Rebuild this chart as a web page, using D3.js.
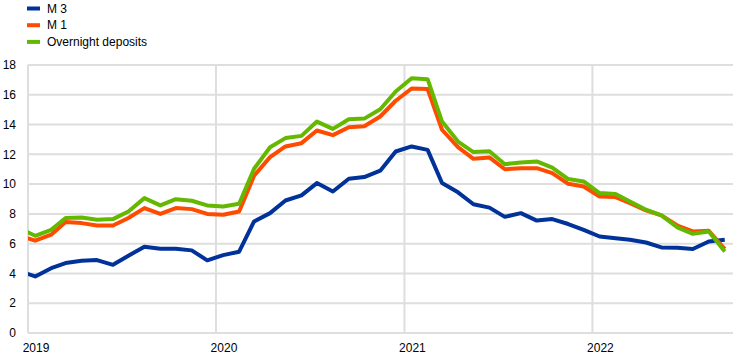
<!DOCTYPE html>
<html><head><meta charset="utf-8">
<script src="https://cdn.jsdelivr.net/npm/d3@7"></script>
<style>
body{margin:0;background:#fff;}
text{font-family:Arial,"Liberation Sans",sans-serif;font-size:12px;fill:#000;}
</style></head>
<body><svg id="c" width="742" height="359"></svg>
<script>
// Months: Dec 2018 ... Sep 2022 (first point is clipped at left edge)
const startMonth = "2018-12";
const seriesNames = ["M 3", "M 1", "Overnight deposits"];
const m3 = [4.16,3.8,4.35,4.7,4.85,4.9,4.58,5.19,5.8,5.66,5.66,5.55,4.88,5.23,5.46,7.49,8.05,8.9,9.24,10.07,9.5,10.36,10.47,10.9,12.19,12.53,12.3,10.07,9.45,8.65,8.42,7.8,8.05,7.55,7.65,7.32,6.93,6.48,6.37,6.26,6.08,5.75,5.72,5.64,6.15,6.26];
const m1 = [6.54,6.2,6.6,7.45,7.38,7.22,7.22,7.72,8.39,8.0,8.39,8.32,8.0,7.94,8.16,10.56,11.81,12.53,12.75,13.6,13.29,13.82,13.89,14.54,15.6,16.42,16.38,13.65,12.48,11.7,11.79,11.0,11.07,11.07,10.74,10.02,9.84,9.17,9.13,8.72,8.23,7.9,7.22,6.82,6.86,5.64];
const od = [7.03,6.53,6.93,7.72,7.76,7.6,7.65,8.16,9.06,8.57,8.99,8.88,8.57,8.5,8.68,11.03,12.48,13.09,13.24,14.2,13.71,14.36,14.4,15.03,16.22,17.11,17.05,14.2,12.86,12.15,12.21,11.34,11.45,11.52,11.11,10.34,10.18,9.4,9.33,8.83,8.28,7.9,7.09,6.66,6.82,5.48];
const colors = ["#003299","#ff4b00","#65b800"];
const yTicks = [0,2,4,6,8,10,12,14,16,18];
const yearTicks = ["2019","2020","2021","2022"];

const svg = d3.select("#c");
const parseM = d3.timeParse("%Y-%m");
const t0 = parseM(startMonth);
const dates = m3.map((_, i) => d3.timeDay.offset(d3.timeMonth.offset(t0, i), 14));

const x = d3.scaleTime().domain([new Date(2019,0,1), new Date(2022,9,1)]).range([28,733]);
const y = d3.scaleLinear().domain([0,18]).range([333,65]);

// horizontal grid
svg.append("g").selectAll("line").data(yTicks).join("line")
  .attr("x1",28).attr("x2",733).attr("y1",d=>y(d)).attr("y2",d=>y(d))
  .attr("stroke","#dedede").attr("stroke-width",2);
// vertical grid
const yearDates = yearTicks.map(s => new Date(+s,0,1));
svg.append("g").selectAll("line").data(yearDates).join("line")
  .attr("x1",d=>x(d)).attr("x2",d=>x(d)).attr("y1",y(18)).attr("y2",y(0))
  .attr("stroke","#dedede").attr("stroke-width",2);

// y labels
svg.append("g").selectAll("text").data(yTicks).join("text")
  .attr("x",16).attr("y",d=>y(d)).attr("dy","0.35em").attr("text-anchor","end").text(d=>d);
// x labels
svg.append("g").selectAll("text").data(yearTicks).join("text")
  .attr("x",s=>x(new Date(+s,0,1))+8).attr("y",352).attr("text-anchor","middle").text(s=>s);

svg.append("clipPath").attr("id","clip").append("rect")
  .attr("x",28).attr("y",0).attr("width",705).attr("height",359);

const line = d3.line().x((d,i)=>x(dates[i])).y(d=>y(d));
[m3,m1,od].forEach((s,k)=>{
  svg.append("path").attr("d",line(s)).attr("fill","none")
    .attr("stroke",colors[k]).attr("stroke-width",4).attr("stroke-linejoin","round")
    .attr("clip-path","url(#clip)");
});

// legend
const lg = svg.append("g");
seriesNames.forEach((n,k)=>{
  const cy = 8.5 + k*16.7;
  lg.append("rect").attr("x",27).attr("y",cy-2).attr("width",13).attr("height",4).attr("fill",colors[k]);
  lg.append("text").attr("x",47).attr("y",cy).attr("dy","0.35em").text(n);
});
</script></body></html>
